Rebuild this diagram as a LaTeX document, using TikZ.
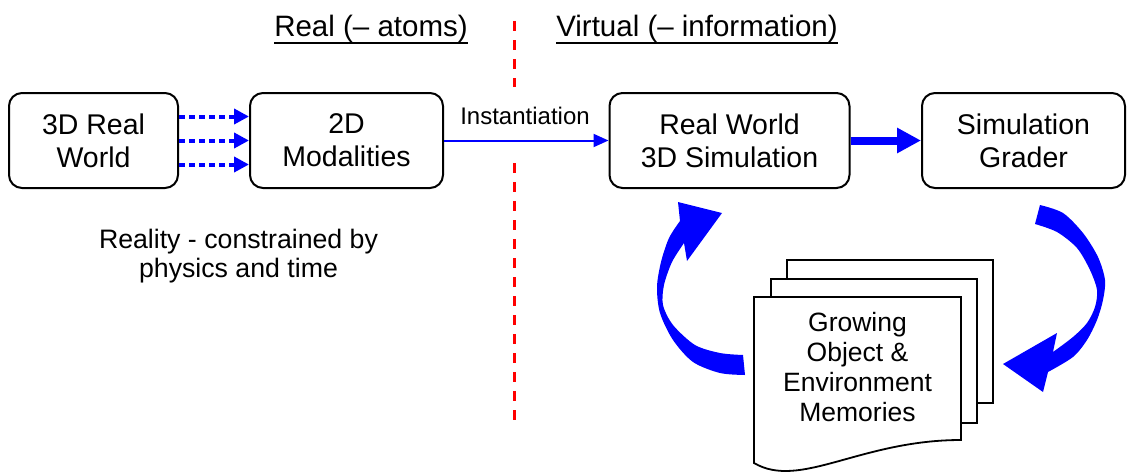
\documentclass[tikz,border=0pt]{standalone}
\usepackage{fontspec}
\setmainfont{Liberation Sans}
\usetikzlibrary{arrows.meta}
\begin{document}
\begin{tikzpicture}[x=1pt,y=-1pt,
  box/.style={draw, line width=2pt, rounded corners=13pt, minimum height=95pt,
    inner sep=0pt, align=center, font=\fontsize{28.5}{33}\selectfont},
  titletext/.style={inner sep=0pt, font=\fontsize{29.5}{34}\selectfont},
  page/.style={draw, fill=white, line width=1.8pt},
  dotarrow/.style={blue, line width=4pt, dash pattern=on 6pt off 4pt,
    -{Triangle[length=15pt,width=15pt]}},
  divider/.style={red, line width=3pt, dash pattern=on 10pt off 9pt},
  ribbon/.style={fill=blue}
]
\useasboundingbox (0,0) rectangle (1133,474);

% titles
\node[titletext, anchor=base] (t1) at (371,36) {Real (– atoms)};
\node[titletext, anchor=base] (t2) at (697,36) {Virtual (– information)};
\draw[line width=2pt] ([yshift=-6.5pt]t1.base west) -- ([yshift=-6.5pt]t1.base east);
\draw[line width=2pt] ([yshift=-6.5pt]t2.base west) -- ([yshift=-6.5pt]t2.base east);

% divider
\coordinate (r1) at (514,21);
\coordinate (r2) at (514,87);
\coordinate (r3) at (514,163);
\coordinate (r4) at (514,428);
\draw[divider] (r1) -- (r2);
\draw[divider] (r3) -- (r4);

% boxes
\node[box, minimum width=169pt] (b1) at (93.5,140.5) {3D Real\\World};
\node[box, minimum width=193pt] (b2) at (346.5,140.5) {2D\\Modalities};
\node[box, minimum width=240pt] (b3) at (729.5,140.5) {Real World\\3D Simulation};
\node[box, minimum width=203pt] (b4) at (1023.5,140.5) {Simulation\\Grader};

% connectors
\draw[dotarrow] ([yshift=24pt]b1.east) -- ([yshift=24pt]b2.west);
\draw[dotarrow] (b1.east) -- (b2.west);
\draw[dotarrow] ([yshift=-24pt]b1.east) -- ([yshift=-24pt]b2.west);
\draw[blue, line width=2pt, -{Triangle[length=15pt,width=13pt]}] (b2.east) -- (b3.west);
\node[font=\fontsize{24}{28}\selectfont, inner sep=0pt] (inst) at (525,116) {Instantiation};
\draw[blue, line width=8pt, -{Triangle[length=24pt,width=24pt]}] (b3.east) -- (b4.west);

% side text
\node[align=center, font=\fontsize{26.7}{29}\selectfont] (reality) at (238.5,256)
  {Reality - constrained by\\physics and time};

% document stack
\draw[page] (787,260) rectangle (993,403);
\draw[page] (771,279) rectangle (977,423);
\draw[page] (754,297) -- (961,297) -- (961,440)
  .. controls (860,440) and (800,490) .. (754,463) -- cycle;
\node[align=center, font=\fontsize{26.5}{30}\selectfont] (mem) at (857.5,367)
  {Growing\\Object \&\\Environment\\Memories};

% curved arrows
\fill[ribbon] plot[smooth] coordinates {(745,375) (720,373) (693,362) (673,340) (660,313) (657,287) (661,262) (669,238) (680,221)}
  -- (678,202) -- (722,213) -- (687,261) -- (684,243)
  -- plot[smooth] coordinates {(684,243) (672,262) (664,285) (663,305) (673,325) (695,345) (720,353) (743,355)}
  -- cycle;
\fill[ribbon] plot[smooth] coordinates {(1040,205) (1063,213) (1083,233) (1098,257) (1105,280) (1103,300) (1097,320) (1087,340) (1073,357) (1048,372)}
  -- (1043,392) -- (1003,364) -- (1057,333) -- (1053,352)
  -- plot[smooth] coordinates {(1053,352) (1073,337) (1087,323) (1095,307) (1097,290) (1090,270) (1077,248) (1057,232) (1035,224)}
  -- cycle;
\end{tikzpicture}
\end{document}
